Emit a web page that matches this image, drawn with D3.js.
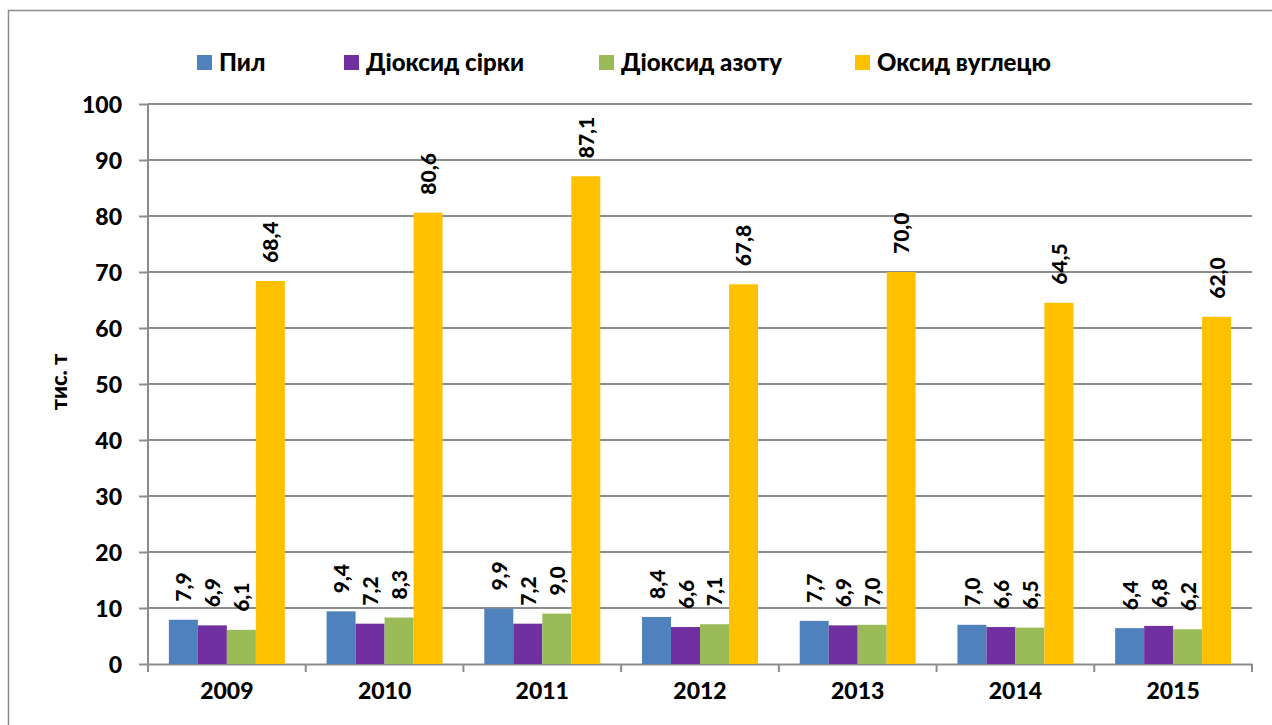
<!DOCTYPE html>
<html>
<head>
<meta charset="utf-8">
<script src="https://cdn.jsdelivr.net/npm/d3@7"></script>
<style>
  body { margin: 0; background: #fff; }
  text { font-family: Lato, "Open Sans", sans-serif; font-weight: 900; fill: #000; }
</style>
</head>
<body>
<div id="chart-area"></div>
<script>
/* data */
var years = ["2009", "2010", "2011", "2012", "2013", "2014", "2015"];
var seriesNames = ["Пил", "Діоксид сірки", "Діоксид азоту", "Оксид вуглецю"];
var dust = [7.9, 9.4, 9.9, 8.4, 7.7, 7.0, 6.4];
var sulfur = [6.9, 7.2, 7.2, 6.6, 6.9, 6.6, 6.8];
var nitrogen = [6.1, 8.3, 9.0, 7.1, 7.0, 6.5, 6.2];
var carbon = [68.4, 80.6, 87.1, 67.8, 70.0, 64.5, 62.0];
var yTicks = [0, 10, 20, 30, 40, 50, 60, 70, 80, 90, 100];
var colors = ["#4F81BD", "#7030A0", "#9BBB59", "#FFC000"];

var seriesValues = [dust, sulfur, nitrogen, carbon];

/* sizes */
var W = 1272, H = 725;
var margin = { left: 148, right: 20, top: 104, bottom: 61 };
var width = W - margin.left - margin.right;
var height = H - margin.top - margin.bottom;

var svg = d3.select("#chart-area").append("svg")
  .attr("width", W)
  .attr("height", H);

// outer frame
svg.append("rect")
  .attr("x", 8.5).attr("y", 10.5)
  .attr("width", W + 10).attr("height", H + 10)
  .attr("fill", "none")
  .attr("stroke", "#8c8c8c")
  .attr("stroke-width", 1.5);

var g = svg.append("g")
  .attr("transform", "translate(" + margin.left + ", " + margin.top + ")");

/* scales */
var x0 = d3.scaleBand().domain(years).range([0, width]);
var x1 = d3.scaleBand().domain(seriesNames).range([0, x0.bandwidth()])
  .paddingInner(0).paddingOuter(0.72);
var y = d3.scaleLinear().domain([0, 100]).range([height, 0]);

/* gridlines */
g.selectAll("line.grid")
  .data(yTicks.filter(function(d){ return d > 0; }))
  .enter().append("line")
  .attr("class", "grid")
  .attr("x1", 0).attr("x2", width)
  .attr("y1", function(d){ return y(d); })
  .attr("y2", function(d){ return y(d); })
  .attr("stroke", "#8c8c8c")
  .attr("stroke-width", 2);

/* y axis */
var yAxis = g.append("g")
  .call(d3.axisLeft(y).tickValues(yTicks).tickSize(9).tickPadding(17));
yAxis.selectAll("text").attr("font-size", "23px").attr("dy", "0.36em");
yAxis.selectAll("line").attr("stroke", "#8c8c8c").attr("stroke-width", 2);
yAxis.select(".domain").attr("stroke", "#8c8c8c").attr("stroke-width", 2)
  .attr("d", "M0," + height + "V0");

/* x axis */
var xAxis = g.append("g")
  .attr("transform", "translate(0," + height + ")")
  .call(d3.axisBottom(x0).tickSize(0).tickPadding(19));
xAxis.selectAll("text").attr("font-size", "23px");
xAxis.select(".domain").attr("stroke", "#8c8c8c").attr("stroke-width", 2);
// category boundary ticks
var bounds = years.map(function(d){ return x0(d); }).concat([width]);
xAxis.selectAll("line.bt")
  .data(bounds).enter().append("line")
  .attr("class", "bt")
  .attr("x1", function(d){ return d; }).attr("x2", function(d){ return d; })
  .attr("y1", 0).attr("y2", 8)
  .attr("stroke", "#8c8c8c").attr("stroke-width", 2);

/* y label */
g.append("text")
  .attr("transform", "rotate(-90)")
  .attr("x", -(height / 2) + 2)
  .attr("y", -81)
  .attr("text-anchor", "middle")
  .attr("font-size", "22px")
  .text("тис. т");

/* bars */
var groups = g.selectAll("g.year")
  .data(years).enter().append("g")
  .attr("class", "year")
  .attr("transform", function(d){ return "translate(" + x0(d) + ",0)"; });

seriesNames.forEach(function(s, si) {
  groups.append("rect")
    .attr("x", x1(s))
    .attr("y", function(d, i){ return y(seriesValues[si][i]); })
    .attr("width", x1.bandwidth())
    .attr("height", function(d, i){ return height - y(seriesValues[si][i]); })
    .attr("fill", colors[si]);

  groups.append("text")
    .attr("transform", function(d, i){
      var cx = x1(s) + x1.bandwidth() / 2 + 8;
      var cy = y(seriesValues[si][i]) - 18;
      return "translate(" + cx + "," + cy + ") rotate(-90)";
    })
    .attr("font-size", "21px")
    .text(function(d, i){ return seriesValues[si][i].toFixed(1).replace(".", ","); });
});

/* legend */
var legendX = [197, 344, 599, 855];
var legend = svg.selectAll("g.legend")
  .data(seriesNames).enter().append("g")
  .attr("class", "legend")
  .attr("transform", function(d, i){ return "translate(" + legendX[i] + ",55)"; });
legend.append("rect")
  .attr("width", 15).attr("height", 15)
  .attr("fill", function(d, i){ return colors[i]; });
legend.append("text")
  .attr("x", 22).attr("y", 16)
  .attr("font-size", "24px")
  .text(function(d){ return d; });
</script>
</body>
</html>
